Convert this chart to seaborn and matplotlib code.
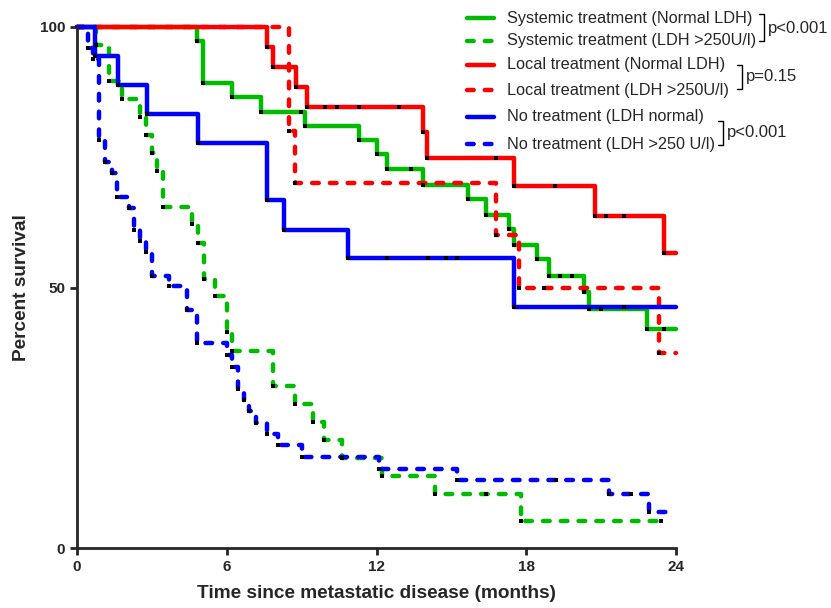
import numpy as np
import pandas as pd
import matplotlib
matplotlib.use("Agg")
import matplotlib.pyplot as plt
import seaborn as sns
from matplotlib.lines import Line2D

# survival curves (time in months, percent surviving)
groups = ["Systemic treatment (Normal LDH)", "Systemic treatment (LDH >250U/l)",
          "Local treatment (Normal LDH)", "Local treatment (LDH >250U/l)",
          "No treatment (LDH normal)", "No treatment (LDH >250 U/l)"]

sys_norm_t = [0, 4.8, 5.06, 6.22, 7.36, 9.13, 11.31, 12.0, 12.43, 13.85, 15.68, 16.37,
              17.32, 17.52, 18.44, 18.91, 20.31, 20.51, 22.82, 24]
sys_norm_s = [100, 97.4, 89.2, 86.6, 83.7, 81.0, 78.3, 75.6, 72.7, 69.7, 67.0, 63.9,
              61.2, 58.2, 55.4, 52.3, 49.2, 45.8, 42.0, 42.0]
sys_norm_c = [8.96, 13.37, 19.35, 19.82, 21.0, 23.5]

sys_high_t = [0, 0.78, 1.3, 1.8, 2.52, 2.75, 3.0, 3.22, 3.46, 4.59, 4.86, 5.09, 5.53,
              6.0, 6.2, 7.84, 8.73, 9.44, 9.91, 10.6, 12.22, 14.33, 17.8, 23.4]
sys_high_s = [100, 96.6, 89.7, 86.2, 82.8, 79.3, 75.9, 72.4, 65.5, 62.1, 58.6, 51.7, 48.3,
              41.4, 37.9, 31.0, 27.6, 24.1, 20.7, 17.2, 13.8, 10.3, 5.2, 5.2]
sys_high_c = [16.4, 23.4]

loc_norm_t = [0, 7.6, 7.84, 8.77, 9.23, 13.85, 14.03, 17.52, 20.75, 23.5, 24]
loc_norm_s = [100, 96.2, 92.3, 88.5, 84.6, 79.8, 74.8, 69.5, 63.7, 56.6, 56.6]
loc_norm_c = [9.94, 10.4, 11.3, 12.9, 16.8, 19.15, 21.2, 21.9]

loc_high_t = [0, 8.5, 8.73, 16.8, 17.7, 23.3, 24]
loc_high_s = [100, 80, 70, 60, 50, 37.5, 37.5]
loc_high_c = [18.7]

no_norm_t = [0, 0.72, 1.63, 2.79, 4.84, 7.6, 8.29, 10.87, 17.52, 24]
no_norm_s = [100, 94.4, 88.9, 83.3, 77.8, 66.7, 61.1, 55.6, 46.3, 46.3]
no_norm_c = [12.43, 14.08, 14.77, 15.24, 21.9]

no_high_t = [0, 0.45, 0.65, 0.88, 1.12, 1.39, 1.59, 2.1, 2.3, 2.52, 2.76, 2.99, 3.69, 4.39,
             4.82, 6.0, 6.2, 6.44, 6.69, 6.9, 7.16, 7.6, 8.07, 9.0, 12.1, 15.24, 21.3, 22.9, 24]
no_high_s = [100, 95.9, 93.8, 78.4, 74.1, 71.9, 67.4, 65.3, 61.1, 58.9, 56.8, 52.3, 50.2, 45.7,
             39.3, 37.0, 34.8, 30.6, 28.4, 26.3, 24.0, 21.9, 19.8, 17.4, 15.2, 13.0, 10.4, 6.9, 6.9]
no_high_c = [19.2, 22.2]

times = [sys_norm_t, sys_high_t, loc_norm_t, loc_high_t, no_norm_t, no_high_t]
survs = [sys_norm_s, sys_high_s, loc_norm_s, loc_high_s, no_norm_s, no_high_s]
censors = [sys_norm_c, sys_high_c, loc_norm_c, loc_high_c, no_norm_c, no_high_c]

colors = ["#00BB00", "#00BB00", "#FF0000", "#FF0000", "#0000FF", "#0000FF"]
dash = (1.5, 2.5)
dash_list = ["", dash, "", dash, "", dash]

pvals = ["p<0.001", "p=0.15", "p<0.001"]

rows = []
for g, t, s in zip(groups, times, survs):
    for ti, si in zip(t, s):
        rows.append({"time": ti, "surv": si, "group": g})
df = pd.DataFrame(rows)

sns.set_style("ticks")
plt.rcParams["font.family"] = ["Liberation Sans", "DejaVu Sans"]

W, H = 831, 608
fig = plt.figure(figsize=(W / 100, H / 100), dpi=100)
ax = fig.add_axes([77 / W, 1 - 548 / H, (676 - 77) / W, (548 - 27) / H])

sns.lineplot(data=df, x="time", y="surv", hue="group", style="group",
             palette=dict(zip(groups, colors)), dashes=dict(zip(groups, dash_list)),
             estimator=None, sort=False, drawstyle="steps-post", lw=3.2,
             dash_capstyle="round", legend=False, ax=ax)
for ln in ax.lines:
    ln.set_clip_on(False)

# black symbols at each event and censored observation
mx, my = [], []
for t, s, c in zip(times, survs, censors):
    mx += t[1:-1]
    my += s[1:-1]
    for ci in c:
        idx = np.searchsorted(t, ci, side="right") - 1
        mx.append(ci)
        my.append(s[idx])
ax.scatter(mx, my, marker="s", s=11, color="black", linewidths=0, zorder=5, clip_on=False)

ax.set_xlim(0, 24)
ax.set_ylim(0, 100)
ax.set_xticks([0, 6, 12, 18, 24])
ax.set_yticks([0, 50, 100])
sns.despine(ax=ax)
for sp in ["left", "bottom"]:
    ax.spines[sp].set_linewidth(2)
ax.tick_params(width=2, length=5, labelsize=11)
for lab in ax.get_xticklabels() + ax.get_yticklabels():
    lab.set_fontweight("bold")
ax.set_xlabel("Time since metastatic disease (months)", fontsize=13.7, fontweight="bold", labelpad=8)
ax.set_ylabel("Percent survival", fontsize=13.7, fontweight="bold", labelpad=7)

# legend drawn by hand, pairs bracketed with p values
def fx(x):
    return x / W

def fy(y):
    return 1 - y / H

leg_y = [18, 41, 65, 90, 117, 144]
for g, c, d, y in zip(groups, colors, dash_list, leg_y):
    ls = "-" if d == "" else (0, d)
    fig.add_artist(Line2D([fx(467), fx(494)], [fy(y), fy(y)], color=c, lw=3.2,
                          linestyle=ls, dash_capstyle="round"))
    fig.text(fx(507), fy(y), g, fontsize=11.7, va="center", ha="left")

brackets = [(764, 14, 41, 28), (742, 65, 89, 77), (723, 121, 145, 132)]
for (bx, y0, y1, ty), p in zip(brackets, pvals):
    fig.add_artist(Line2D([fx(bx - 5), fx(bx), fx(bx), fx(bx - 5)],
                          [fy(y0), fy(y0), fy(y1), fy(y1)], color="black", lw=1))
    fig.text(fx(bx + 4), fy(ty), p, fontsize=12, va="center", ha="left")

fig.savefig("out.png", dpi=100)
